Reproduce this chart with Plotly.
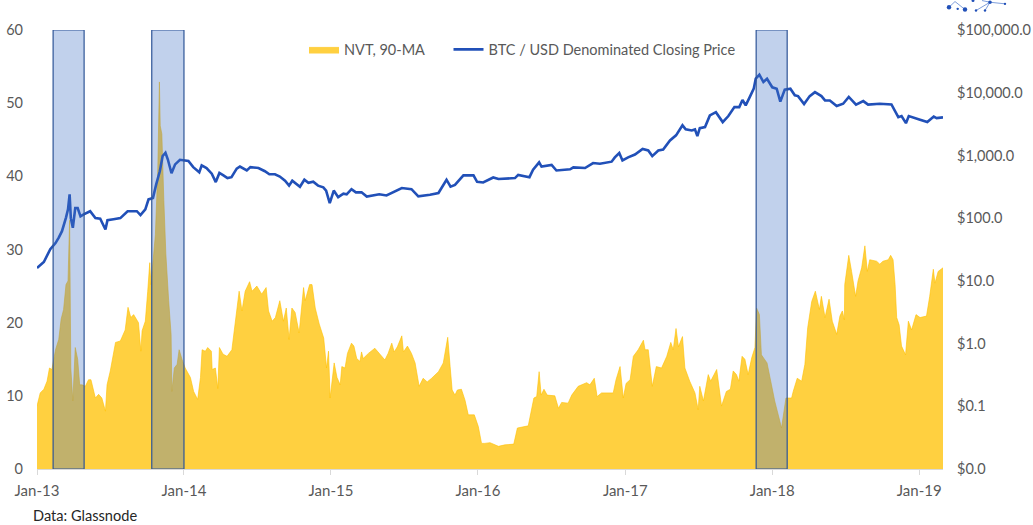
import pandas as pd
import plotly.graph_objects as go

START = "2013-01-01"

# NVT, 90-day moving average: days since START and value
nvt_days = [0,4,8,17,25,31,37,46,54,60,66,72,77,81,84,89,95,101,106,112,120,128,134,145,153,161,170,174,182,195,207,219,226,233,240,252,258,261,269,275,280,283,288,294,300,304,306,310,315,320,327,333,335,341,348,353,360,368,381,389,399,406,410,418,424,433,435,443,449,453,462,472,484,492,502,509,517,528,534,546,558,569,575,584,592,603,612,619,626,633,641,651,662,666,677,683,691,701,712,719,724,728,738,745,753,757,765,771,781,787,794,802,806,810,823,839,852,864,872,881,887,895,906,910,920,930,939,949,959,969,980,997,1009,1020,1026,1031,1038,1044,1054,1063,1071,1086,1096,1104,1112,1125,1146,1162,1184,1193,1220,1228,1234,1241,1247,1252,1259,1267,1286,1295,1303,1319,1328,1344,1365,1373,1384,1391,1402,1431,1438,1448,1456,1463,1473,1481,1493,1506,1510,1518,1528,1538,1551,1564,1574,1580,1587,1593,1603,1609,1621,1634,1642,1646,1655,1667,1673,1688,1700,1712,1722,1729,1737,1743,1751,1758,1766,1775,1783,1787,1794,1799,1813,1824,1832,1845,1849,1860,1874,1878,1888,1899,1907,1914,1924,1933,1943,1948,1957,1967,1975,1986,1994,2000,2005,2006,2016,2023,2033,2039,2048,2056,2062,2068,2085,2093,2101,2114,2120,2126,2131,2135,2141,2147,2157,2164,2172,2183,2193,2209,2217,2226,2230,2238,2250]
nvt_values = [8.6,9.5,10.4,10.9,12,13.8,13.6,16.3,17.7,20.5,21.8,25.2,25.7,34,13.8,9.3,16.6,15,11.5,11.5,11.3,12.2,12.2,9.7,10.2,9.7,7.9,11.5,13.4,17.3,17.5,19,22.1,20.7,21.1,20,16.1,18.9,20.2,24.3,28.2,25.2,28,32,41,52.9,46.9,45.8,36.7,29.4,23,18.4,10.6,13.8,14.3,16.3,15,13.8,12.5,10.6,9.5,12.5,16.3,16.1,16.6,16.1,13.6,13.8,11,16.6,15.7,15.4,16.3,20.2,24.3,21.6,24.3,25.6,24.3,25,23.9,24.8,21.6,20.2,20.7,23,20.2,22,17.7,22,21.4,18.6,24.8,23,25.2,25.2,22,19.8,17.9,13.8,16.1,9.7,14.5,12.5,11.5,14,13.8,15.8,17.2,16.8,15.1,14.7,16,15.1,15.8,16.5,15.6,14.9,15.8,17.2,16,16.7,18.2,16,16.8,15.8,14.5,11.3,12.4,11.9,12.4,13.3,14.5,18,14,10.8,10.1,10.8,10.9,9.4,7.4,7.4,5.8,3.5,3.5,3.6,3.1,3.3,3.4,5.6,5.9,8.1,9.7,9.9,13.3,10.1,10.9,10.1,10,8.3,9.1,9,10.1,11.3,11.8,11.5,12.4,9.9,10.4,10.4,12.2,14,9.7,11.7,12.2,15.4,16.3,17.6,16.3,16.3,11.3,14,13.8,15.4,17.3,16.3,19.2,16.7,18.1,13.8,12,10.4,8.1,11.3,9.3,12.9,12,13.6,8.6,10.6,10.9,13.4,12.9,12,15.4,15,12.9,15.2,16.6,22,21.1,15.6,14.5,11.5,9.3,6.5,5.6,9.7,9.7,10.6,12.4,12,14.3,19.3,22.9,24.3,21.8,23.6,20.7,23.2,20.2,18.4,20.9,21.6,20.4,25.2,29.2,27,23.6,25.7,27.5,30.5,27,28.6,28.4,28,28.4,28.6,29.2,28.6,25.2,20.7,19.7,16.8,15.6,20.2,19,21.1,20.7,20.9,23.6,27.3,25.4,27,27.5]

# BTC / USD closing price: days since START and price
btc_days = [0,17,33,46,54,62,72,77,81,84,89,95,101,108,116,132,145,157,170,175,190,207,225,248,257,269,277,288,296,305,312,319,325,334,343,
            355,376,388,403,409,421,434,444,453,463,473,483,496,504,521,530,550,566,577,591,603,616,626,634,653,664,674,686,698,711,718,727,737,748,761,769,781,792,806,819,835,850,
            868,906,930,947,976,997,1017,1027,1038,1059,1084,1093,1108,1133,1146,1187,1195,1223,1232,1247,1253,1278,1290,1324,1332,1361,1381,
            1398,1427,1435,1446,1454,1468,1485,1504,1518,1528,1543,1555,1572,1587,1603,1611,1626,1634,1640,1646,1659,1671,1686,1703,1717,1732,1744,1752,1760,1770,1780,1785,1794,1804,1813,1826,1837,1846,1857,1871,1882,1890,
            1905,1919,1932,1948,1957,1969,1986,2002,2016,2034,2052,2064,2093,2122,2131,2139,2147,2158,2165,2176,2193,2211,2227,2234,2250]
btc_price = [16,20,32,40,49,62,102,138,240,100,70,145,145,107,115,129,100,98,66,93,96,100,129,129,112,138,199,210,345,560,980,1100,860,520,720,
             851,815,650,537,695,630,512,376,525,480,435,450,615,665,575,650,630,560,500,500,460,395,330,395,316,410,365,380,330,310,275,173,275,216,245,240,290,258,258,221,229,240,
             230,302,290,223,236,252,410,317,338,480,480,380,370,445,420,435,490,450,590,775,665,705,575,600,645,630,755,
             735,795,930,1090,830,930,1035,1270,1200,975,1200,1245,1730,2090,3020,2600,2500,2600,2030,2720,2830,4350,4900,3400,4250,5900,5900,7650,6300,8500,11600,16800,19400,14800,16700,12200,11600,7200,11200,11600,9100,8830,
             6600,8830,10200,8830,7530,7530,6120,6670,8560,6470,7350,6450,6670,6500,5210,4080,4250,3270,4250,3990,3700,3400,4180,3940,4040]

# Highlighted windows around the price peaks
window_starts = ["2013-02-10", "2013-10-13", "2017-11-22"]
window_ends = ["2013-04-28", "2014-01-01", "2018-02-07"]

x_ticks = ["2013-01-01","2014-01-01","2015-01-01","2016-01-01","2017-01-01","2018-01-01","2019-01-01"]

FONT = "Lato, 'Open Sans', sans-serif"
GREY = "#595959"

W, H = 1033, 525
L, R, T, B = 37, 90, 29.5, 56
PW, PH = W - L - R, H - T - B


def px(x):
    return (x - L) / PW


def py(y):
    return (H - B - y) / PH


base = pd.Timestamp(START)
nvt_dates = [base + pd.Timedelta(days=d) for d in nvt_days]
btc_dates = [base + pd.Timedelta(days=d) for d in btc_days]

fig = go.Figure()
fig.add_trace(go.Scatter(x=nvt_dates, y=nvt_values, name="NVT, 90-MA", mode="lines",
                         fill="tozeroy", fillcolor="rgba(255,192,0,0.75)",
                         line=dict(color="rgba(255,192,0,0.75)", width=0.8), legend="legend"))
fig.add_trace(go.Scatter(x=btc_dates, y=btc_price, name="BTC / USD Denominated Closing Price",
                         mode="lines", yaxis="y2", legend="legend2",
                         line=dict(color="#2150b8", width=2.6)))

for s, e in zip(window_starts, window_ends):
    fig.add_shape(type="rect", xref="x", yref="y", x0=s, x1=e, y0=0, y1=60, layer="above",
                  fillcolor="rgba(68,114,196,0.33)", line=dict(color="#2f5597", width=1.2))

# Small network logo, clipped by the top of the page
logo_nodes = [(949, 6.7, 2.2), (957.7, 8.3, 1.2), (965, 9, 2.2), (976, 10, 1.2), (985, 10, 1.2),
              (990, 1.7, 1.8), (1005, 3.3, 1.2), (973, 0, 1.5)]
logo_links = [((949, 6.7), (955, 1)), ((955, 1), (965, 9)), ((976, 10), (990, 1.7)),
              ((985, 10), (990, 1.7)), ((990, 1.7), (1005, 3.3)), ((990, 1.7), (982, 0))]
for (x0, y0), (x1, y1) in logo_links:
    fig.add_shape(type="line", xref="paper", yref="paper", x0=px(x0), y0=py(y0), x1=px(x1), y1=py(y1),
                  line=dict(color="#7f9fdc", width=1))
for x, y, r in logo_nodes:
    fig.add_shape(type="circle", xref="paper", yref="paper", x0=px(x - r), x1=px(x + r),
                  y0=py(y + r), y1=py(y - r), fillcolor="#2150b8", line=dict(width=0))

fig.add_annotation(text="Data: Glassnode", xref="paper", yref="paper", x=px(32), y=py(516),
                   xanchor="left", yanchor="middle", showarrow=False, borderpad=0,
                   font=dict(family=FONT, size=14.6, color="#262626"))

legend_font = dict(size=14.5, color=GREY)
fig.update_layout(
    width=W, height=H, autosize=False,
    margin=dict(l=L, r=R, t=T, b=B, pad=0),
    paper_bgcolor="white", plot_bgcolor="white",
    font=dict(family=FONT, size=13, color=GREY),
    showlegend=True,
    legend=dict(x=px(304), y=py(49), xanchor="left", yanchor="middle", itemwidth=30,
                bgcolor="rgba(0,0,0,0)", font=legend_font),
    legend2=dict(x=px(448.5), y=py(49), xanchor="left", yanchor="middle", itemwidth=30,
                 bgcolor="rgba(0,0,0,0)", font=legend_font),
    xaxis=dict(type="date", range=[START, "2019-03-01"], tickmode="array", tickvals=x_ticks,
               tickformat="%b-%y", ticks="outside", ticklen=5, tickcolor="#d9d9d9",
               showline=True, linecolor="#d9d9d9", showgrid=False, zeroline=False,
               automargin=False, ticklabelstandoff=3, tickfont=dict(size=15, color=GREY)),
    yaxis=dict(range=[0, 60], dtick=10, showgrid=False, zeroline=False, ticks="",
               automargin=False, ticklabelstandoff=13, tickfont=dict(size=14.5, color=GREY)),
    yaxis2=dict(type="log", range=[-2, 5], dtick=1, overlaying="y", side="right",
                tickformat="$,.1f", showgrid=False, zeroline=False, ticks="",
                automargin=False, ticklabelstandoff=13, tickfont=dict(size=14.5, color=GREY)),
)
fig.write_html("out.html", post_script="document.body.style.margin='0';",
               config={"displayModeBar": False})
